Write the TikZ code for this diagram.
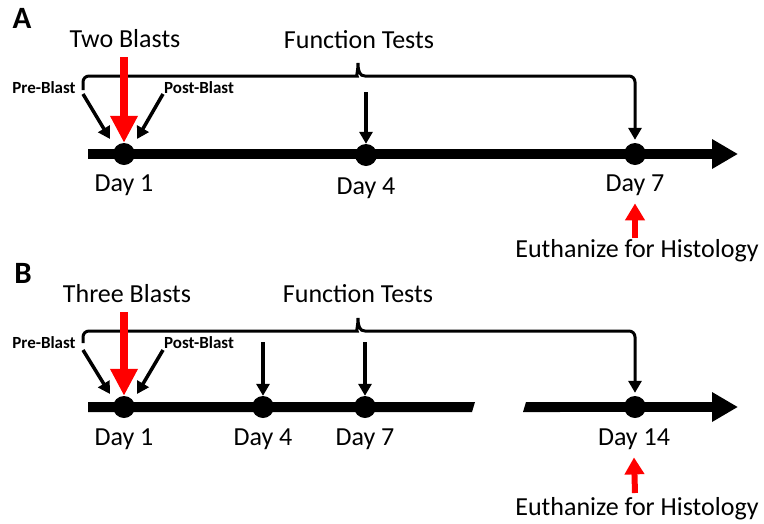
\documentclass[tikz,border=0pt]{standalone}
\usepackage{fontspec}
\setmainfont{Carlito}
\usetikzlibrary{arrows.meta}

\tikzset{
  big/.style={font=\fontsize{26}{30}\selectfont, anchor=base, inner sep=0pt},
  small/.style={font=\bfseries\fontsize{17}{20}\selectfont, anchor=base, inner sep=0pt},
  panel/.style={font=\bfseries\fontsize{31}{34}\selectfont, anchor=base, inner sep=0pt},
  dot/.style={circle, fill, inner sep=0pt, minimum size=22pt},
  tick/.style={line width=3.5pt, -{Triangle[width=13pt,length=12pt]}},
  brace/.style={line width=3pt, -{Triangle[width=13pt,length=12pt]}},
  blast/.style={red, line width=8pt, -{Triangle[width=26pt,length=27pt]}},
  kill/.style={red, line width=6pt, -{Triangle[width=19pt,length=17pt]}},
  axis/.style={line width=10pt, -{Triangle[width=28pt,length=26pt]}}
}

\begin{document}
\begin{tikzpicture}[x=1pt, y=-1pt]
    \useasboundingbox (0,0) rectangle (764,523);

    % panel A
    \node[panel] (labA) at (22,28) {A};
    \node[big] (twoA) at (125,47) {Two Blasts};
    \node[big] (funcA) at (359,48) {Function Tests};
    \node[small] (preA) at (44,93) {Pre-Blast};
    \node[small] (postA) at (199,93) {Post-Blast};
    \draw[axis] (88,154) -- (738,154);
    \node[dot] (d1a) at (124,154) {};
    \node[dot] (d4a) at (366,155) {};
    \node[dot] (d7a) at (635,154) {};
    \node[big] (day1a) at (124,191) {Day 1};
    \node[big] (day4a) at (366,194) {Day 4};
    \node[big] (day7a) at (635,191) {Day 7};
    \node[big] (euthA) at (637,257) {Euthanize for Histology};
    \coordinate (blA) at (124,57);
    \coordinate (prA) at (83,94);
    \coordinate (poA) at (163,94);
    \coordinate (t4a) at (366,92);
    \coordinate (kA) at (635,238);
    \draw[brace] (83,90) [rounded corners=6pt] -- (83,76) -- (351,76) [sharp corners]
        .. controls (356,76) and (358,72) .. (358,63)
        .. controls (358,72) and (360,76) .. (365,76) [rounded corners=6pt]
        -- (635,76) -- ([yshift=3pt]d7a.north);
    \draw[tick] (prA) -- (110,139);
    \draw[tick] (poA) -- (137,139);
    \draw[tick] (t4a) -- (d4a.north);
    \draw[blast] (blA) -- (d1a.north);
    \draw[kill] (kA) -- ([yshift=-8pt]day7a.south);

    % panel B
    \node[panel] (labB) at (23,283) {B};
    \node[big] (threeB) at (127,302) {Three Blasts};
    \node[big] (funcB) at (358,302) {Function Tests};
    \node[small] (preB) at (44,348) {Pre-Blast};
    \node[small] (postB) at (199,348) {Post-Blast};
    \fill (88,402) -- (475,402) -- (472,412) -- (88,412) -- cycle;
    \fill (526,402) -- (560,402) -- (560,412) -- (523,412) -- cycle;
    \draw[axis] (555,407) -- (738,407);
    \node[dot] (d1b) at (124,407) {};
    \node[dot] (d4b) at (263,407) {};
    \node[dot] (d7b) at (365,407) {};
    \node[dot] (d14b) at (635,407) {};
    \node[big] (day1b) at (124,445) {Day 1};
    \node[big] (day4b) at (263,445) {Day 4};
    \node[big] (day7b) at (365,445) {Day 7};
    \node[big] (day14b) at (634,445) {Day 14};
    \node[big] (euthB) at (637,515) {Euthanize for Histology};
    \coordinate (blB) at (124,312);
    \coordinate (prB) at (83,350);
    \coordinate (poB) at (163,350);
    \coordinate (t4b) at (263,342);
    \coordinate (t7b) at (365,342);
    \coordinate (kB) at (635,493);
    \draw[brace] (83,343) [rounded corners=6pt] -- (83,331) -- (351,331) [sharp corners]
        .. controls (356,331) and (358,327) .. (358,318)
        .. controls (358,327) and (360,331) .. (365,331) [rounded corners=6pt]
        -- (635,331) -- ([yshift=3pt]d14b.north);
    \draw[tick] (prB) -- (110,394);
    \draw[tick] (poB) -- (137,394);
    \draw[tick] (t4b) -- (d4b.north);
    \draw[tick] (t7b) -- (d7b.north);
    \draw[blast] (blB) -- (d1b.north);
    \draw[kill] (kB) -- ([yshift=-8pt]day14b.south);
\end{tikzpicture}
\end{document}
